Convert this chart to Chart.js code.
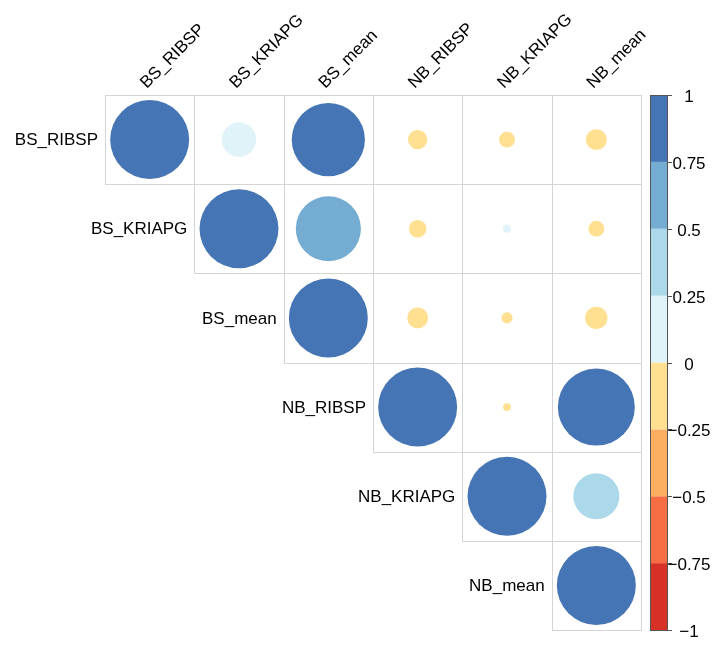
<!DOCTYPE html>
<html>
<head>
<meta charset="utf-8">
<script src="https://cdn.jsdelivr.net/npm/chart.js@4"></script>
<style>
    body { margin: 0; background: #fff; }
    #wrap { width: 720px; height: 653px; }
</style>
</head>
<body>
<div id="wrap"><canvas id="corrChart" width="720" height="653"></canvas></div>
<script>
// ============================================
// DATA (upper triangle of the correlation matrix)
// ============================================

const varNames = ['BS_RIBSP', 'BS_KRIAPG', 'BS_mean', 'NB_RIBSP', 'NB_KRIAPG', 'NB_mean'];

const rowBsRibsp  = [1, 0.19, 0.86, -0.06, -0.04, -0.07];
const rowBsKriapg = [null, 1, 0.68, -0.05, 0.01, -0.04];
const rowBsMean   = [null, null, 1, -0.07, -0.02, -0.08];
const rowNbRibsp  = [null, null, null, 1, -0.01, 0.95];
const rowNbKriapg = [null, null, null, null, 1, 0.34];
const rowNbMean   = [null, null, null, null, null, 1];

const colorBreaks = [-1, -0.75, -0.5, -0.25, 0, 0.25, 0.5, 0.75, 1];
const colorTickLabels = ['\u22121', '\u22120.75', '\u22120.5', '\u22120.25', '0', '0.25', '0.5', '0.75', '1'];
const binColors = ['#D73027', '#F46D43', '#FDAE61', '#FEE090', '#E0F3F8', '#ABD9E9', '#74ADD1', '#4575B4'];

const FONT = '17px "Liberation Sans", Arial, sans-serif';

// ============================================
// HELPERS
// ============================================

function colorFor(v) {
    for (let k = 0; k < binColors.length; k++) {
        if (v <= colorBreaks[k + 1]) return binColors[k];
    }
    return binColors[binColors.length - 1];
}

function buildPoints() {
    const rows = [rowBsRibsp, rowBsKriapg, rowBsMean, rowNbRibsp, rowNbKriapg, rowNbMean];
    const pts = [];
    rows.forEach((row, i) => {
        row.forEach((v, j) => {
            if (v !== null) pts.push({ x: j + 0.5, y: i + 0.5, v: v });
        });
    });
    return pts;
}

function cellSize(chart) {
    const s = chart.scales.x;
    if (!s) return 0;
    const d = Math.abs(s.getPixelForValue(1) - s.getPixelForValue(0));
    return isFinite(d) ? d : 0;
}

// ============================================
// PLUGINS
// ============================================

const gridCells = {
    id: 'gridCells',
    beforeDatasetsDraw(chart) {
        const { ctx, scales: { x, y } } = chart;
        ctx.save();
        ctx.strokeStyle = '#D4D4D4';
        ctx.lineWidth = 1;
        const n = varNames.length;
        for (let i = 0; i < n; i++) {
            for (let j = i; j < n; j++) {
                const x0 = Math.round(x.getPixelForValue(j)) + 0.5;
                const x1 = Math.round(x.getPixelForValue(j + 1)) + 0.5;
                const y0 = Math.round(y.getPixelForValue(i)) + 0.5;
                const y1 = Math.round(y.getPixelForValue(i + 1)) + 0.5;
                ctx.strokeRect(x0, y0, x1 - x0, y1 - y0);
            }
        }
        ctx.restore();
    }
};

const corrLabels = {
    id: 'corrLabels',
    afterDraw(chart) {
        const { ctx, scales: { x, y } } = chart;
        ctx.save();
        ctx.font = FONT;
        ctx.fillStyle = '#000';

        // column labels, rotated 45 degrees
        varNames.forEach((name, j) => {
            const cx = x.getPixelForValue(j + 0.5);
            ctx.save();
            ctx.translate(cx - 3, y.getPixelForValue(0) - 6);
            ctx.rotate(-Math.PI / 4);
            ctx.textAlign = 'left';
            ctx.textBaseline = 'alphabetic';
            ctx.fillText(name, 0, 0);
            ctx.restore();
        });

        // row labels, next to the diagonal cell
        ctx.textAlign = 'right';
        ctx.textBaseline = 'middle';
        varNames.forEach((name, i) => {
            ctx.fillText(name, x.getPixelForValue(i) - 7, y.getPixelForValue(i + 0.5) + 1);
        });
        ctx.restore();
    }
};

const colorBar = {
    id: 'colorBar',
    afterDraw(chart) {
        const { ctx, chartArea } = chart;
        const cb = chart.scales.cb;
        const left = chartArea.right + 9;
        const w = 17;
        ctx.save();
        for (let k = 0; k < binColors.length; k++) {
            const yTop = cb.getPixelForValue(colorBreaks[k + 1]);
            const yBot = cb.getPixelForValue(colorBreaks[k]);
            ctx.fillStyle = binColors[k];
            ctx.fillRect(left, yTop, w, yBot - yTop);
        }
        ctx.strokeStyle = '#555';
        ctx.lineWidth = 1;
        const top = cb.getPixelForValue(1);
        const bot = cb.getPixelForValue(-1);
        ctx.strokeRect(left + 0.5, Math.round(top) + 0.5, w, Math.round(bot - top));

        ctx.font = FONT;
        ctx.fillStyle = '#000';
        ctx.textAlign = 'center';
        ctx.textBaseline = 'middle';
        colorBreaks.forEach((b, k) => {
            const py = Math.round(cb.getPixelForValue(b)) + 0.5;
            ctx.beginPath();
            ctx.moveTo(left + w, py);
            ctx.lineTo(left + w + 5, py);
            ctx.stroke();
            ctx.fillText(colorTickLabels[k], left + w + 22, py + 2);
        });
        ctx.restore();
    }
};

// ============================================
// CHART
// ============================================

const corrChart = new Chart(document.getElementById('corrChart'), {
    type: 'scatter',
    data: {
        datasets: [{
            data: buildPoints(),
            clip: false,
            pointBorderWidth: 0,
            pointBackgroundColor: (c) => c.raw ? colorFor(c.raw.v) : '#ccc',
            pointRadius: (c) => c.raw ? Math.sqrt(Math.abs(c.raw.v)) * cellSize(c.chart) * 0.442 : 0
        }]
    },
    options: {
        responsive: false,
        animation: false,
        events: [],
        layout: {
            padding: { left: 105, top: 95, right: 79, bottom: 23 }
        },
        plugins: {
            legend: { display: false },
            tooltip: { enabled: false }
        },
        scales: {
            x: { type: 'linear', min: 0, max: 6, display: false },
            y: { type: 'linear', min: 0, max: 6, reverse: true, display: false },
            cb: { type: 'linear', position: 'right', min: -1, max: 1, display: false }
        }
    },
    plugins: [gridCells, corrLabels, colorBar]
});
</script>
</body>
</html>
